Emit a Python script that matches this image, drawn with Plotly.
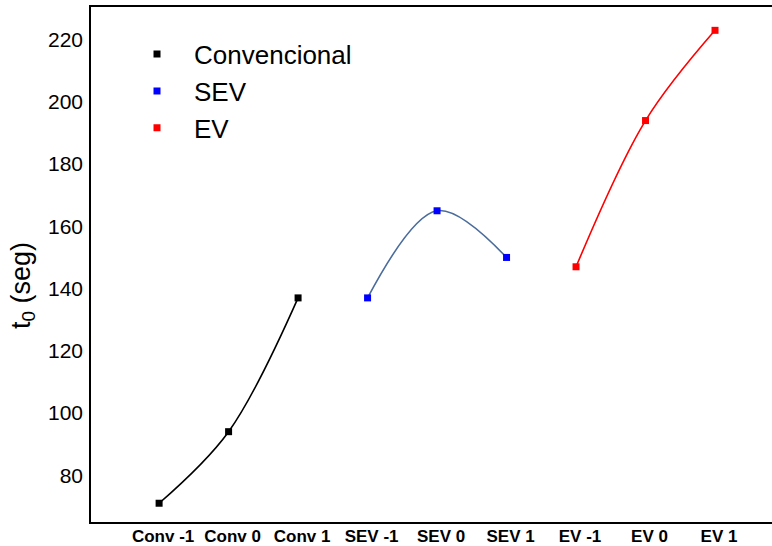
import plotly.graph_objects as go

categories = ["Conv -1", "Conv 0", "Conv 1", "SEV -1", "SEV 0", "SEV 1", "EV -1", "EV 0", "EV 1"]
conv_values = [71, 94, 137]
sev_values = [137, 165, 150]
ev_values = [147, 194, 223]
y_ticks = [80, 100, 120, 140, 160, 180, 200, 220]

groups = [
    ("Convencional", categories[0:3], conv_values, "black", "black"),
    ("SEV", categories[3:6], sev_values, "#4a6c9c", "#0000ff"),
    ("EV", categories[6:9], ev_values, "#ff0000", "#ff0000"),
]

fig = go.Figure()
for name, xs, ys, lc, mc in groups:
    fig.add_trace(go.Scatter(x=xs, y=ys, mode="lines", line=dict(color=lc, width=1.6, shape="spline"),
                             showlegend=False, hoverinfo="skip"))
for name, xs, ys, lc, mc in groups:
    fig.add_trace(go.Scatter(x=xs, y=ys, mode="markers", name=name,
                             marker=dict(symbol="square", size=7, color=mc)))

fig.update_layout(
    width=772, height=546,
    margin=dict(l=91, r=0, t=7, b=24, autoexpand=False),
    plot_bgcolor="white", paper_bgcolor="white",
    font=dict(family="Liberation Sans, Arial, sans-serif", color="black"),
    legend=dict(x=0.0426, y=0.954, xanchor="left", yanchor="top", bgcolor="rgba(0,0,0,0)",
                font=dict(size=26), itemwidth=64, tracegroupgap=0, traceorder="normal"),
    xaxis=dict(type="category", categoryorder="array", categoryarray=categories,
               range=[-0.98, 8.82], showgrid=False, zeroline=False,
               showline=True, linecolor="black", linewidth=1.5, mirror=True,
               ticks="", tickfont=dict(size=17, family="Liberation Sans, Arial, sans-serif", weight="bold"),
               ticklabelshift=4, ticklabelstandoff=-2),
    yaxis=dict(range=[64.97, 230.5], tickvals=y_ticks, showgrid=False, zeroline=False,
               showline=True, linecolor="black", linewidth=1.5, ticks="",
               tickfont=dict(size=21), ticklabelstandoff=2),
)
fig.add_annotation(text="t<sub>0</sub> (seg)", xref="paper", yref="paper", x=-0.1, y=0.46,
                   xanchor="center", yanchor="middle", textangle=-90, showarrow=False,
                   font=dict(size=27))
fig.write_html("out.html", config={"displayModeBar": False},
               post_script="document.body.style.margin='0';document.body.style.padding='0';")
